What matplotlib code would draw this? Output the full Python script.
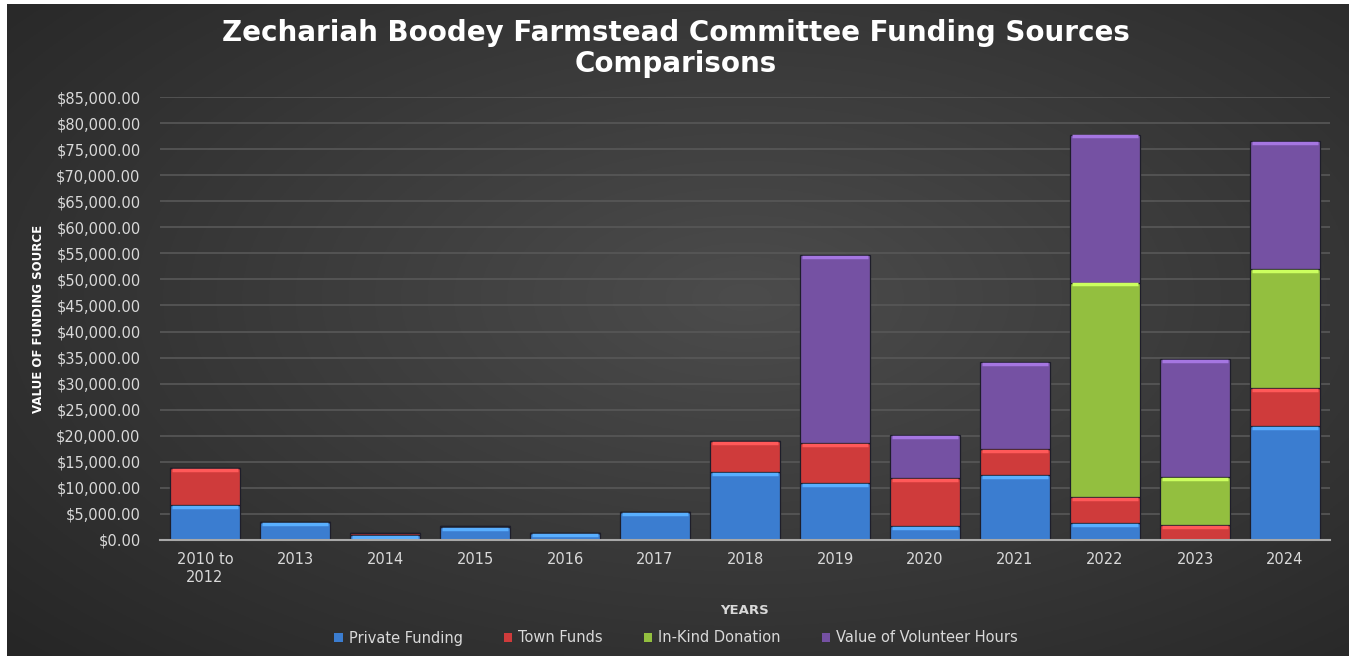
import numpy as np
import matplotlib.pyplot as plt
from matplotlib.colors import to_rgb
from matplotlib.patches import Rectangle
from matplotlib.ticker import FuncFormatter

years = ['2010 to\n2012', '2013', '2014', '2015', '2016', '2017', '2018',
         '2019', '2020', '2021', '2022', '2023', '2024']
private = [6700, 3400, 1000, 2400, 1400, 5300, 13000, 10900, 2700, 12400, 3300, 0, 21900]
town = [7100, 0, 300, 300, 0, 0, 6000, 7650, 9200, 5000, 5000, 2900, 7200]
inkind = [0, 0, 0, 0, 0, 0, 0, 0, 0, 0, 41100, 9100, 22900]
volunteer = [0, 0, 0, 0, 0, 0, 0, 36150, 8200, 16700, 28400, 22700, 24600]

series = [('Private Funding', private, '#3b7dd0'),
          ('Town Funds', town, '#cf3b3b'),
          ('In-Kind Donation', inkind, '#93bf3f'),
          ('Value of Volunteer Hours', volunteer, '#7551a3')]

txt = '#d9d9d9'

fig = plt.figure(figsize=(13.51, 6.56), dpi=100, facecolor='white')

# dark radial background
bg = fig.add_axes([7/1351, 0, 1342/1351, 652/656], zorder=-5)
yy, xx = np.mgrid[0:1:300j, 0:1:600j]
r = np.sqrt(((xx - 0.55) / 0.75)**2 + ((yy - 0.45) / 0.8)**2)
r = np.clip(r, 0, 1)
dark, light = np.array(to_rgb('#262626')), np.array(to_rgb('#4c4c4c'))
img = light[None, None, :] * (1 - r[..., None]) + dark[None, None, :] * r[..., None]
bg.imshow(img, aspect='auto', extent=[0, 1, 0, 1])
bg.axis('off')

ax = fig.add_axes([160/1351, 1 - 540/656, 1170/1351, 443/656])
ax.set_facecolor('none')
x = np.arange(len(years))
w = 0.78
bottom = np.zeros(len(years))
for name, vals, col in series:
    vals = np.array(vals, dtype=float)
    ax.bar(x, vals, w, bottom=bottom, color=col, label=name,
           edgecolor='#1e1e2a', linewidth=0.9, zorder=3)
    # bevel highlight along the top of each segment (skip very thin ones)
    c = np.array(to_rgb(col))
    hi = np.clip(c * 1.3 + 0.05, 0, 1)
    top = bottom + vals
    m = vals >= 900
    ax.hlines(top[m] - 350, x[m] - w / 2 + 0.02, x[m] + w / 2 - 0.02,
              color=hi, linewidth=2.5, zorder=4)
    bottom += vals

ax.set_xlim(-0.5, 12.5)
ax.set_ylim(0, 85000)
ax.set_yticks(np.arange(0, 85001, 5000))
ax.yaxis.set_major_formatter(FuncFormatter(lambda v, _: '${:,.2f}'.format(v)))
ax.set_xticks(x)
ax.set_xticklabels(years)
ax.grid(axis='y', color='#585858', linewidth=1.2, zorder=0)
ax.set_axisbelow(True)
for s in ['top', 'right', 'left']:
    ax.spines[s].set_visible(False)
ax.spines['bottom'].set_color('#a8a8a8')
ax.spines['bottom'].set_linewidth(1.5)
ax.spines['bottom'].set_zorder(5)
ax.tick_params(length=0, colors=txt, labelsize=10.5, pad=14)
ax.tick_params(axis='x', pad=9)

ax.set_xlabel('YEARS', color=txt, fontsize=9.5, fontweight='bold', labelpad=14)
ax.set_ylabel('VALUE OF FUNDING SOURCE', color='white', fontsize=8.5,
              fontweight='bold', family=['Liberation Sans Narrow', 'DejaVu Sans'],
              labelpad=8)

fig.text(0.5, 1 - 33/656, 'Zechariah Boodey Farmstead Committee Funding Sources',
         ha='center', va='center', color='white', fontsize=20, fontweight='bold')
fig.text(0.5, 1 - 64/656, 'Comparisons', ha='center', va='center',
         color='white', fontsize=20, fontweight='bold')

handles = [Rectangle((0, 0), 1, 1, facecolor=c, edgecolor='none') for _, _, c in series]
fig.legend(handles, [n for n, _, _ in series], loc='center',
           bbox_to_anchor=(676/1351, 1 - 638/656), ncol=4, frameon=False,
           labelcolor=txt, fontsize=10.5, handlelength=0.6, handleheight=0.6,
           handletextpad=0.4, columnspacing=2.8)

fig.savefig('out.png', dpi=100, facecolor=fig.get_facecolor())
